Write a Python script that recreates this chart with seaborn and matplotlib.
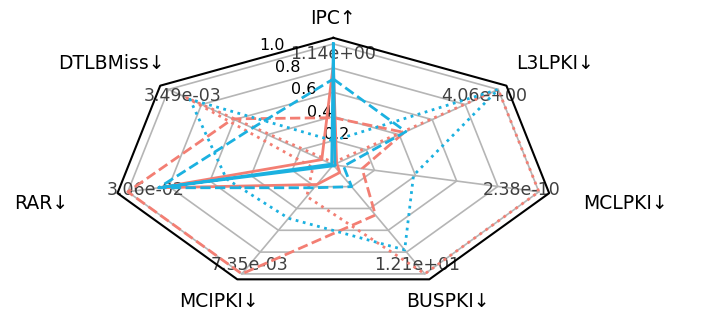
import numpy as np
import matplotlib
matplotlib.use("Agg")
import matplotlib.pyplot as plt
import matplotlib.transforms as mtrans
import seaborn as sb

# axes of the radar, clockwise from the top
metrics = ['IPC↑', 'L3LPKI↓', 'MCLPKI↓', 'BUSPKI↓', 'MCIPKI↓', 'RAR↓', 'DTLBMiss↓']
max_labels = ['1.14e+00', '4.06e+00', '2.38e-10', '1.21e+01', '7.35e-03', '3.06e-02', '3.49e-03']
rings = [0.2, 0.4, 0.6, 0.8, 1.0]

# normalised values
red_solid = [0.83, 0.02, 0.02, 0.07, 0.18, 0.85, 0.07]
red_dash = [0.39, 0.43, 0.14, 0.46, 1.00, 1.00, 0.61]
red_dot = [0.02, 1.00, 1.00, 1.00, 0.29, 0.10, 0.89]
blue_solid = [1.00, 0.01, 0.01, 0.01, 0.01, 0.83, 0.01]
blue_dash = [0.71, 0.44, 0.05, 0.20, 0.21, 0.85, 0.49]
blue_dot = [0.20, 1.00, 0.39, 0.78, 0.49, 0.52, 0.87]

RED = '#F37E73'
BLUE = '#1BB1E0'
series = [(red_solid, RED, '-'), (red_dash, RED, '--'), (red_dot, RED, ':'),
          (blue_solid, BLUE, '-'), (blue_dash, BLUE, '--'), (blue_dot, BLUE, ':')]

n = len(metrics)
theta = np.linspace(0, 2 * np.pi, n, endpoint=False)
theta_c = np.append(theta, theta[0] + 2 * np.pi)

fig = plt.figure(figsize=(7.13, 3.18), dpi=100)
ax = fig.add_axes([0.157, 0.082, 0.621, 0.799], projection='polar')
ax.set_aspect('auto')
ax.set_theta_offset(np.pi / 2)
ax.set_theta_direction(-1)

#GRID (polygon web)
for r in rings:
    ax.plot(theta_c, [r] * (n + 1), color='#b5b5b5', lw=1.2, zorder=1)
for t in theta:
    ax.plot([t, t], [0, 1.0], color='#b5b5b5', lw=1.2, zorder=1)
ax.plot(theta_c, [1.05] * (n + 1), color='black', lw=1.5, zorder=2, clip_on=False)

#DATA
for vals, col, ls in series:
    sb.lineplot(x=theta_c, y=np.append(vals, vals[0]), ax=ax, color=col,
                linestyle=ls, linewidth=2, sort=False, estimator=None,
                legend=False, zorder=4)

ax.set_ylim(0, 1.05)
ax.set_xticks([])
ax.set_yticks([])
ax.set_xlabel('')
ax.set_ylabel('')
ax.grid(False)
ax.spines['polar'].set_visible(False)

#TEXT
for t, lab in zip(theta, metrics):
    ax.text(t, 1.21 + 0.22 * np.sin(t) ** 2, lab, ha='center', va='center',
            fontsize=13.5, color='black', zorder=1)
for t, lab in zip(theta, max_labels):
    ax.text(t, 0.915, lab, ha='center', va='center', fontsize=12.5,
            color='#404040', zorder=1)
off = mtrans.offset_copy(ax.transData, fig=fig, x=19, y=8, units='dots')
for r in rings:
    ax.text(np.deg2rad(-22.5), r, '%.1f' % r, transform=off, ha='center',
            va='center', fontsize=11.5, color='black', zorder=1)

fig.savefig('out.png', dpi=100)
